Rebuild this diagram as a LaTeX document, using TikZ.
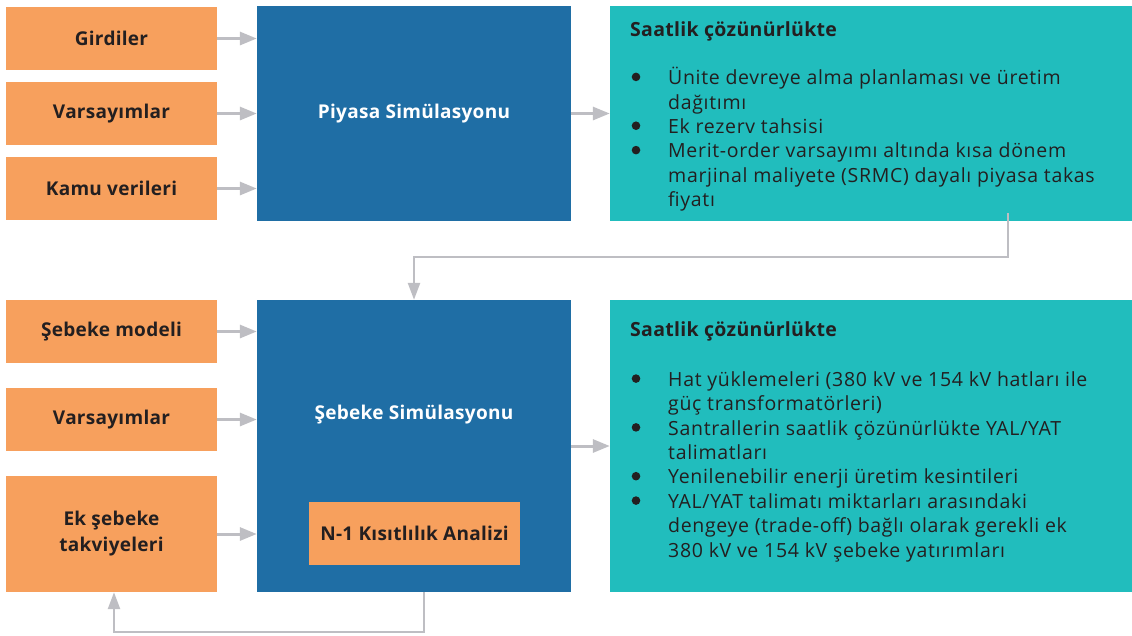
\documentclass[tikz,border=0pt]{standalone}
\usepackage{fontspec}
\setmainfont{Open Sans}[LetterSpace=3.5]
\newfontfamily\labelfont{Open Sans}[LetterSpace=1.5]
\usetikzlibrary{arrows.meta}

\definecolor{inorange}{HTML}{F7A05D}
\definecolor{simblue}{HTML}{1F6EA5}
\definecolor{outteal}{HTML}{21BDBD}
\definecolor{arrgray}{HTML}{BEBEC3}
\definecolor{txtdark}{HTML}{231F20}

\newcommand{\madde}{\hspace{1.5pt}\tikz[baseline=-7.7pt]\fill[txtdark] (0,0) circle[radius=4.3pt];}

\begin{document}
\begin{tikzpicture}[x=1pt, y=-1pt,
    inbox/.style={fill=inorange, minimum width=211, minimum height=63, inner sep=0,
        font=\fontsize{19}{26}\selectfont\labelfont\bfseries, text=txtdark, align=center},
    simbox/.style={fill=simblue, minimum width=314, inner sep=0,
        font=\fontsize{19}{24}\selectfont\labelfont\bfseries, text=white},
    outbox/.style={fill=outteal, minimum width=522, inner sep=0},
    outtext/.style={anchor=north west, inner sep=0, text=txtdark,
        font=\fontsize{19.5}{24.4}\selectfont},
    arr/.style={draw=arrgray, line width=3pt, -{Triangle[length=17pt, width=13pt]}},
    link/.style={draw=arrgray, line width=2.5pt, -{Triangle[length=17pt, width=12pt]}}]
    \useasboundingbox (0,0) rectangle (1132,635);

    % ust satir
    \node[inbox] (girdi) at (111.5,38.5) {Girdiler};
    \node[inbox] (vars1) at (111.5,113.5) {Varsayımlar};
    \node[inbox] (kamu) at (111.5,188.5) {Kamu verileri};
    \node[simbox, minimum height=215] (piyasa) at (414,113.5) {Piyasa Simülasyonu};
    \node[outbox, minimum height=215] (cikti1) at (871,113.5) {};
    \node[outtext] (liste1) at (630,19) {%
        \begin{tabular}{@{}p{38pt}@{}l@{}}
        \multicolumn{2}{@{}l@{}}{\labelfont\bfseries Saatlik çözünürlükte}\\[23.6pt]
        \madde & Ünite devreye alma planlaması ve üretim\\
          & dağıtımı\\
        \madde & Ek rezerv tahsisi\\
        \madde & Merit-order varsayımı altında kısa dönem\\
          & marjinal maliyete (SRMC) dayalı piyasa takas\\
          & fiyatı
        \end{tabular}};

    % alt satir
    \node[inbox] (model) at (111.5,331.5) {Şebeke modeli};
    \node[inbox] (vars2) at (111.5,419.5) {Varsayımlar};
    \node[inbox, minimum height=116] (takviye) at (111.5,534) {Ek şebeke\\takviyeleri};
    \node[simbox, minimum height=292] (sebeke) at (414,446) {};
    \node[text=white, font=\fontsize{19}{24}\selectfont\labelfont\bfseries] (sebekead) at (414,415) {Şebeke Simülasyonu};
    \node[inbox, minimum width=211, minimum height=63] (analiz) at (414.5,533.5) {N-1 Kısıtlılık Analizi};
    \node[outbox, minimum height=292] (cikti2) at (871,446) {};
    \node[outtext] (liste2) at (630,319) {%
        \begin{tabular}{@{}p{38pt}@{}l@{}}
        \multicolumn{2}{@{}l@{}}{\labelfont\bfseries Saatlik çözünürlükte}\\[25.6pt]
        \madde & Hat yüklemeleri (380 kV ve 154 kV hatları ile\\
          & güç transformatörleri)\\
        \madde & Santrallerin saatlik çözünürlükte YAL/YAT\\
          & talimatları\\
        \madde & Yenilenebilir enerji üretim kesintileri\\
        \madde & YAL/YAT talimatı miktarları arasındaki\\
          & dengeye (trade-off) bağlı olarak gerekli ek\\
          & 380 kV ve 154 kV şebeke yatırımları
        \end{tabular}};

    % oklar
    \draw[arr] (girdi.east) -- (girdi.east -| piyasa.west);
    \draw[arr] (vars1.east) -- (vars1.east -| piyasa.west);
    \draw[arr] (kamu.east) -- (kamu.east -| piyasa.west);
    \draw[arr] (piyasa.east) -- (cikti1.west);
    \draw[arr] (model.east) -- (model.east -| sebeke.west);
    \draw[arr] (vars2.east) -- (vars2.east -| sebeke.west);
    \draw[arr] (takviye.east) -- (takviye.east -| sebeke.west);
    \draw[arr] (sebeke.east) -- (cikti2.west);
    \coordinate (donus) at (1008,213);
    \draw[link] (donus) -- ++(0,44) -| (sebeke.north);
    \draw[link] ([xshift=10pt]sebeke.south) -- ++(0,40) -| ([xshift=2.5pt]takviye.south);
\end{tikzpicture}
\end{document}
